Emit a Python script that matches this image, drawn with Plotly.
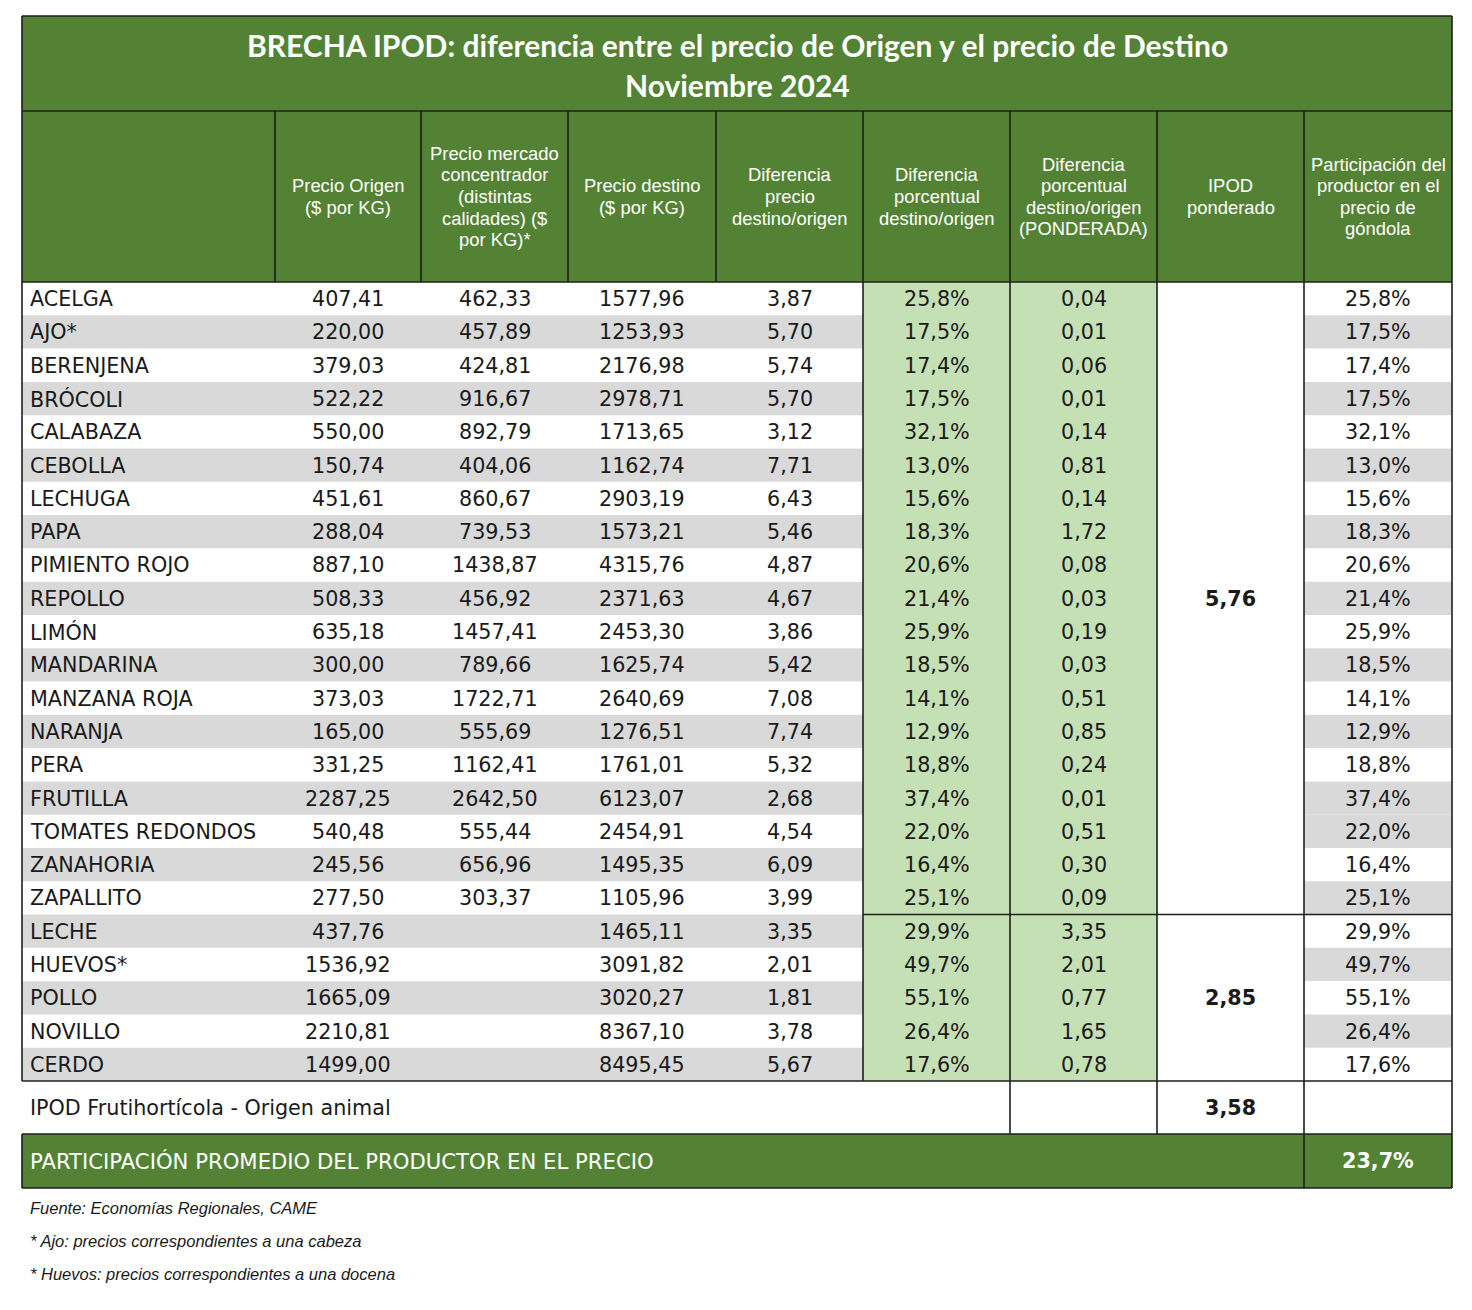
import plotly.graph_objects as go

products = ["ACELGA", "AJO*", "BERENJENA", "BRÓCOLI", "CALABAZA", "CEBOLLA", "LECHUGA", "PAPA",
            "PIMIENTO ROJO", "REPOLLO", "LIMÓN", "MANDARINA", "MANZANA ROJA", "NARANJA", "PERA",
            "FRUTILLA", "TOMATES REDONDOS", "ZANAHORIA", "ZAPALLITO",
            "LECHE", "HUEVOS*", "POLLO", "NOVILLO", "CERDO"]
precio_origen = ["407,41", "220,00", "379,03", "522,22", "550,00", "150,74", "451,61", "288,04",
                 "887,10", "508,33", "635,18", "300,00", "373,03", "165,00", "331,25", "2287,25",
                 "540,48", "245,56", "277,50", "437,76", "1536,92", "1665,09", "2210,81", "1499,00"]
precio_mercado = ["462,33", "457,89", "424,81", "916,67", "892,79", "404,06", "860,67", "739,53",
                  "1438,87", "456,92", "1457,41", "789,66", "1722,71", "555,69", "1162,41", "2642,50",
                  "555,44", "656,96", "303,37", "", "", "", "", ""]
precio_destino = ["1577,96", "1253,93", "2176,98", "2978,71", "1713,65", "1162,74", "2903,19", "1573,21",
                  "4315,76", "2371,63", "2453,30", "1625,74", "2640,69", "1276,51", "1761,01", "6123,07",
                  "2454,91", "1495,35", "1105,96", "1465,11", "3091,82", "3020,27", "8367,10", "8495,45"]
dif_precio = ["3,87", "5,70", "5,74", "5,70", "3,12", "7,71", "6,43", "5,46", "4,87", "4,67", "3,86", "5,42",
              "7,08", "7,74", "5,32", "2,68", "4,54", "6,09", "3,99", "3,35", "2,01", "1,81", "3,78", "5,67"]
dif_pct = ["25,8%", "17,5%", "17,4%", "17,5%", "32,1%", "13,0%", "15,6%", "18,3%", "20,6%", "21,4%",
           "25,9%", "18,5%", "14,1%", "12,9%", "18,8%", "37,4%", "22,0%", "16,4%", "25,1%",
           "29,9%", "49,7%", "55,1%", "26,4%", "17,6%"]
dif_pond = ["0,04", "0,01", "0,06", "0,01", "0,14", "0,81", "0,14", "1,72", "0,08", "0,03", "0,19", "0,03",
            "0,51", "0,85", "0,24", "0,01", "0,51", "0,30", "0,09", "3,35", "2,01", "0,77", "1,65", "0,78"]
participacion = ["25,8%", "17,5%", "17,4%", "17,5%", "32,1%", "13,0%", "15,6%", "18,3%", "20,6%", "21,4%",
                 "25,9%", "18,5%", "14,1%", "12,9%", "18,8%", "37,4%", "22,0%", "16,4%", "25,1%",
                 "29,9%", "49,7%", "55,1%", "26,4%", "17,6%"]
ipod_grupos = ["5,76", "2,85"]
grupo_filas = [19, 5]
ipod_total = "3,58"
participacion_promedio = "23,7%"

headers = ["", "Precio Origen<br>($ por KG)",
           "Precio mercado<br>concentrador<br>(distintas<br>calidades) ($<br>por KG)*",
           "Precio destino<br>($ por KG)", "Diferencia<br>precio<br>destino/origen",
           "Diferencia<br>porcentual<br>destino/origen",
           "Diferencia<br>porcentual<br>destino/origen<br>(PONDERADA)",
           "IPOD<br>ponderado", "Participación del<br>productor en el<br>precio de<br>góndola"]
title1 = "BRECHA IPOD: diferencia entre el precio de Origen y el precio de Destino"
title2 = "Noviembre 2024"
notes = ["Fuente: Economías Regionales, CAME",
         "* Ajo: precios correspondientes a una cabeza",
         "* Huevos: precios correspondientes a una docena"]

# ---- layout geometry (pixels) ----
W, H = 1472, 1310
PAGE = 8  # default body margin of the html page
cx = [22, 275, 421, 568, 716, 863, 1010, 1157, 1304, 1452]
y_title, y_head, y_body = 16, 111, 282
n = len(products)
y_end = 1081
rh = (y_end - y_body) / n
y_ipod_end, y_band_end = 1134, 1188

GREEN = "#548235"
LIGHT = "#C5E0B4"
GREY = "#D9D9D9"
LINE = "#1e1e1e"
TXT = "#1a1a1a"
DATA_FONT = "DejaVu Sans"
HEAD_FONT = "Liberation Sans, Arial"
FS = 20.7

shapes = []
ann = []


def rect(x0, y0, x1, y1, fill, lw=0):
    shapes.append(dict(type="rect", xref="x", yref="y", x0=x0, y0=y0, x1=x1, y1=y1,
                       fillcolor=fill, line=dict(width=lw, color=LINE), layer="below"))


def line(x0, y0, x1, y1, w=1.6):
    shapes.append(dict(type="line", xref="x", yref="y", x0=x0, y0=y0, x1=x1, y1=y1,
                       line=dict(color=LINE, width=w), layer="above"))


def text(x, y, s, size=FS, color=TXT, family=DATA_FONT, align="center", bold=False, italic=False):
    if bold:
        s = "<b>" + s + "</b>"
    if italic:
        s = "<i>" + s + "</i>"
    ann.append(dict(x=x, y=y, xref="x", yref="y", text=s, showarrow=False,
                    xanchor={"center": "center", "left": "left"}[align], yanchor="middle",
                    align=align, font=dict(size=size, color=color, family=family)))


# title + header band
rect(cx[0], y_title, cx[-1], y_body, GREEN)
text((cx[0] + cx[-1]) / 2, 45, title1, size=30, color="white", family="Lato", bold=True)
text((cx[0] + cx[-1]) / 2, 85, title2, size=30, color="white", family="Lato", bold=True)
LH = 21.6
for j, h in enumerate(headers):
    if h:
        parts = h.split("<br>")
        mid = (y_head + y_body) / 2
        for k, p in enumerate(parts):
            yk = mid + (k - (len(parts) - 1) / 2) * LH
            text((cx[j] + cx[j + 1]) / 2, yk, p, size=18.4, color="white", family=HEAD_FONT)

# body backgrounds
rect(cx[0], y_body, cx[-1], y_end, "white")
for i in range(n):
    y0 = y_body + i * rh
    if i % 2 == 1:
        rect(cx[0], y0, cx[5], y0 + rh, GREY)
    last_grey = (i % 2 == 1) if i <= 15 else (i % 2 == 0)
    if last_grey:
        rect(cx[8], y0, cx[9], y0 + rh, GREY)
rect(cx[5], y_body, cx[7], y_end, LIGHT)

# body text
columns = [precio_origen, precio_mercado, precio_destino, dif_precio, dif_pct, dif_pond]
for i in range(n):
    yc = y_body + (i + 0.5) * rh + 0.5
    text(cx[0] + 6, yc, products[i], align="left")
    for j, col in enumerate(columns):
        if col[i]:
            text((cx[j + 1] + cx[j + 2]) / 2, yc, col[i])
    text((cx[8] + cx[9]) / 2, yc, participacion[i])

start = 0
for g, k in zip(ipod_grupos, grupo_filas):
    yc = y_body + (start + k / 2) * rh + 0.5
    text((cx[7] + cx[8]) / 2, yc, g, bold=True)
    start += k

# summary rows
text(cx[0] + 6, (y_end + y_ipod_end) / 2, "IPOD Frutihortícola - Origen animal", align="left")
text((cx[7] + cx[8]) / 2, (y_end + y_ipod_end) / 2, ipod_total, bold=True)
rect(cx[0], y_ipod_end, cx[-1], y_band_end, GREEN)
text(cx[0] + 6, (y_ipod_end + y_band_end) / 2, "PARTICIPACIÓN PROMEDIO DEL PRODUCTOR EN EL PRECIO",
     size=21.2, color="white", align="left")
text((cx[8] + cx[9]) / 2, (y_ipod_end + y_band_end) / 2, participacion_promedio, color="white", bold=True)

# grid lines
line(cx[0], y_title, cx[-1], y_title)
line(cx[0], y_head, cx[-1], y_head)
line(cx[0], y_body, cx[-1], y_body)
for x in cx[1:-1]:
    line(x, y_head, x, y_body)
line(cx[0], y_title, cx[0], y_end)
line(cx[-1], y_title, cx[-1], y_band_end)
for x in cx[5:9]:
    line(x, y_body, x, y_end)
line(cx[5], y_body + grupo_filas[0] * rh, cx[-1], y_body + grupo_filas[0] * rh)
line(cx[0], y_end, cx[-1], y_end)
for x in cx[6:9]:
    line(x, y_end, x, y_ipod_end)
line(cx[0], y_ipod_end, cx[-1], y_ipod_end)
line(cx[0], y_ipod_end, cx[0], y_band_end)
line(cx[8], y_ipod_end, cx[8], y_band_end)
line(cx[0], y_band_end, cx[-1], y_band_end)

# footnotes
for k, s in enumerate(notes):
    text(cx[0] + 6, 1208 + k * 33, s, size=16.5, family=HEAD_FONT, align="left", italic=True)

fig = go.Figure()
fig.update_layout(
    width=W - PAGE, height=H - PAGE, margin=dict(l=0, r=0, t=0, b=0),
    paper_bgcolor="white", plot_bgcolor="white",
    xaxis=dict(range=[PAGE, W], visible=False, fixedrange=True),
    yaxis=dict(range=[H, PAGE], visible=False, fixedrange=True),
    shapes=shapes, annotations=ann, showlegend=False,
)
fig.write_html("out.html")
